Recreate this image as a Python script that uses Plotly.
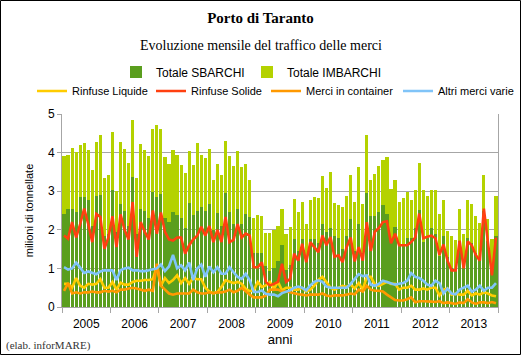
import plotly.graph_objects as go

anni = ["2005", "2006", "2007", "2008", "2009", "2010", "2011", "2012", "2013"]
mesi = [f"{a}-{m:02d}" for a in anni for m in range(1, 13)]

totale_sbarchi = [
    2.40, 2.53, 2.53, 2.47, 2.84, 2.84, 2.76, 2.10, 2.88, 2.89, 1.85, 1.90,
    3.02, 1.95, 2.66, 2.50, 2.10, 3.38, 1.90, 2.55, 2.50, 2.30, 2.98, 2.85,
    2.93, 2.30, 2.20, 2.45, 2.38, 2.30, 2.05, 2.70, 2.38, 2.48, 2.58, 2.50,
    2.68, 2.00, 2.44, 2.10, 2.95, 2.45, 2.15, 2.55, 2.15, 2.40, 2.33, 1.40,
    1.40, 1.40, 1.05, 0.92, 1.00, 1.20, 1.60, 0.95, 1.10, 1.75, 1.45, 1.75,
    1.30, 1.75, 1.75, 1.65, 2.15, 1.95, 2.05, 1.85, 1.80, 1.50, 1.83, 2.28,
    1.45, 2.15, 1.40, 2.95, 2.37, 2.37, 2.47, 2.65, 2.42, 1.75, 2.08, 1.60,
    1.60, 1.78, 1.80, 2.05, 2.52, 1.68, 1.80, 2.05, 1.88, 1.32, 1.85, 1.30,
    1.00, 0.95, 1.70, 1.00, 1.80, 1.65, 1.40, 1.22, 2.50, 1.70, 1.03, 1.85,
]
totale_imbarchi = [
    1.51, 1.40, 1.60, 1.54, 1.36, 1.41, 1.32, 1.46, 1.39, 1.56, 1.49, 1.52,
    1.52, 1.05, 1.61, 1.60, 1.63, 1.46, 1.45, 1.66, 1.57, 1.60, 1.64, 1.87,
    1.67, 1.59, 1.50, 1.61, 1.57, 1.38, 1.42, 1.34, 1.30, 1.76, 1.36, 1.37,
    1.41, 1.30, 1.26, 1.33, 1.35, 1.45, 1.50, 1.50, 1.48, 1.30, 0.97, 0.91,
    0.98, 0.97, 0.88, 1.01, 1.00, 0.90, 0.94, 0.95, 0.98, 1.04, 1.00, 0.98,
    0.84, 1.03, 1.10, 1.18, 1.25, 1.13, 1.45, 0.85, 0.83, 1.08, 1.04, 1.14,
    1.27, 1.47, 1.28, 1.50, 0.91, 1.08, 1.18, 1.15, 1.46, 1.30, 1.20, 1.13,
    1.22, 1.20, 0.97, 0.97, 1.22, 1.34, 1.08, 0.97, 1.16, 1.08, 0.93, 0.68,
    0.85, 0.78, 0.85, 0.90, 0.98, 1.02, 0.97, 0.95, 0.93, 0.58, 0.74, 1.02,
]
rinfuse_liquide = [
    0.60, 0.60, 0.50, 0.75, 0.55, 0.50, 0.60, 0.58, 0.60, 0.72, 0.50, 0.50,
    0.65, 0.45, 0.63, 0.58, 0.58, 0.65, 0.68, 0.68, 0.70, 0.70, 0.72, 1.05,
    0.55, 0.75, 0.62, 0.70, 0.82, 0.62, 0.75, 0.60, 0.75, 0.72, 0.72, 0.50,
    0.40, 0.36, 0.39, 0.52, 0.69, 0.65, 0.62, 0.65, 0.60, 0.47, 0.41, 0.43,
    0.65, 0.52, 0.56, 0.65, 0.47, 0.65, 0.43, 0.50, 0.50, 0.45, 0.45, 0.50,
    0.40, 0.45, 0.55, 0.70, 0.78, 0.65, 0.50, 0.45, 0.50, 0.55, 0.52, 0.58,
    0.48, 0.62, 0.45, 0.78, 0.78, 0.58, 0.55, 0.60, 0.65, 0.60, 0.60, 0.45,
    0.50, 0.50, 0.55, 0.45, 0.45, 0.48, 0.45, 0.50, 0.50, 0.30, 0.45, 0.48,
    0.32, 0.35, 0.32, 0.32, 0.42, 0.30, 0.35, 0.32, 0.38, 0.35, 0.30, 0.28,
]
rinfuse_solide = [
    1.85, 1.77, 2.20, 1.80, 2.15, 2.55, 2.15, 1.68, 2.41, 2.33, 1.51, 1.80,
    2.35, 1.55, 2.40, 2.00, 1.75, 2.72, 1.30, 2.20, 1.95, 1.75, 2.50, 1.90,
    2.45, 1.95, 1.75, 1.72, 1.80, 1.80, 1.38, 1.60, 1.75, 1.85, 2.08, 1.85,
    2.10, 1.68, 2.00, 1.68, 2.33, 1.68, 1.74, 2.15, 1.80, 1.90, 1.85, 1.03,
    1.03, 1.16, 0.65, 0.56, 0.60, 0.65, 1.12, 0.65, 0.73, 1.38, 1.20, 1.64,
    1.16, 1.68, 1.55, 1.42, 1.85, 1.60, 1.81, 1.30, 1.34, 1.16, 1.55, 1.80,
    1.18, 1.55, 1.20, 2.20, 1.45, 1.95, 2.05, 2.20, 2.22, 1.65, 1.90, 1.60,
    1.60, 1.60, 1.68, 1.80, 2.42, 1.78, 1.82, 1.85, 1.78, 1.35, 1.62, 1.20,
    0.95, 0.95, 1.72, 1.00, 1.70, 1.60, 1.35, 1.20, 2.55, 1.70, 0.82, 1.80,
]
merci_container = [
    0.42, 0.62, 0.35, 0.38, 0.35, 0.38, 0.38, 0.40, 0.38, 0.38, 0.42, 0.40,
    0.42, 0.38, 0.45, 0.45, 0.48, 0.50, 0.48, 0.45, 0.42, 0.45, 0.42, 1.12,
    0.55, 0.45, 0.35, 0.32, 0.35, 0.35, 0.35, 0.35, 0.45, 0.38, 0.35, 0.35,
    0.38, 0.35, 0.38, 0.38, 0.40, 0.45, 0.38, 0.42, 0.50, 0.40, 0.32, 0.25,
    0.25, 0.25, 0.30, 0.45, 0.45, 0.45, 0.40, 0.40, 0.38, 0.35, 0.33, 0.32,
    0.30, 0.32, 0.32, 0.32, 0.35, 0.30, 0.28, 0.30, 0.30, 0.30, 0.32, 0.35,
    0.33, 0.45, 0.40, 0.55, 0.45, 0.42, 0.42, 0.40, 0.32, 0.25, 0.18, 0.17,
    0.17, 0.20, 0.25, 0.12, 0.15, 0.15, 0.15, 0.14, 0.13, 0.15, 0.10, 0.12,
    0.10, 0.08, 0.12, 0.10, 0.20, 0.12, 0.08, 0.12, 0.12, 0.10, 0.13, 0.10,
]
altre_merci = [
    1.03, 0.97, 1.00, 1.15, 1.02, 0.88, 0.92, 0.88, 0.85, 0.92, 0.95, 0.95,
    0.95, 0.70, 0.95, 1.00, 1.02, 0.95, 0.95, 0.93, 0.93, 0.95, 0.98, 1.00,
    1.10, 0.93, 1.05, 1.35, 1.00, 1.08, 0.95, 1.15, 0.70, 1.00, 1.10, 0.78,
    1.05, 0.90, 1.03, 0.86, 0.86, 1.03, 0.90, 0.78, 0.73, 0.86, 0.69, 0.39,
    0.39, 0.43, 0.34, 0.32, 0.32, 0.28, 0.36, 0.39, 0.43, 0.50, 0.53, 0.50,
    0.43, 0.56, 0.65, 0.69, 0.65, 0.53, 0.50, 0.50, 0.50, 0.50, 0.50, 0.60,
    0.72, 0.85, 0.80, 0.82, 0.58, 0.55, 0.60, 0.68, 0.65, 0.62, 0.58, 0.60,
    0.62, 0.68, 0.88, 0.78, 0.75, 0.68, 0.58, 0.55, 0.68, 0.62, 0.35, 0.48,
    0.35, 0.33, 0.45, 0.50, 0.55, 0.40, 0.45, 0.55, 0.42, 0.50, 0.50, 0.62,
]

x = list(range(len(mesi)))
year_centers = [12 * k + 5.5 for k in range(len(anni))]
year_bounds = [12 * k - 0.5 for k in range(len(anni) + 1)]

SANS = "Liberation Sans, Arial, sans-serif"
SERIF = "Liberation Serif, Times New Roman, serif"
GRID = "#A6A6A6"

W, H = 521, 355
L, R, T, B = 62, 23, 114, 48
pw, ph = W - L - R, H - T - B


def px(xp):
    return (xp - L) / pw


def py(yp):
    return (T + ph - yp) / ph


fig = go.Figure()
bars = [
    ("Totale SBARCHI", totale_sbarchi, "#5A9E1E", "legend", 116),
    ("Totale IMBARCHI", totale_imbarchi, "#B4D200", "legend2", 247),
]
for name, vals, col, lg, _ in bars:
    fig.add_trace(go.Bar(x=x, y=vals, name=name, legend=lg,
                         marker=dict(color=col, line=dict(width=0))))

lines = [
    ("Rinfuse Liquide", rinfuse_liquide, "#FFCC00", "legend3", 32),
    ("Rinfuse Solide", rinfuse_solide, "#FF4010", "legend4", 151),
    ("Merci in container", merci_container, "#FF9900", "legend5", 266),
    ("Altri merci varie", altre_merci, "#80C4F8", "legend6", 398),
]
for name, vals, col, lg, _ in lines:
    fig.add_trace(go.Scatter(x=x, y=vals, name=name, mode="lines", legend=lg,
                             line=dict(color=col, width=2.6)))

legends = {}
for name, _, _, lg, xpos in bars:
    legends[lg] = dict(orientation="h", x=xpos / W, xanchor="left", xref="container",
                       y=1 - 72 / H, yanchor="middle", yref="container",
                       font=dict(family=SANS, size=12), itemwidth=30,
                       bgcolor="rgba(0,0,0,0)", borderwidth=0)
for name, _, _, lg, xpos in lines:
    legends[lg] = dict(orientation="h", x=xpos / W, xanchor="left", xref="container",
                       y=1 - 91 / H, yanchor="middle", yref="container",
                       font=dict(family=SANS, size=11), itemwidth=30,
                       bgcolor="rgba(0,0,0,0)", borderwidth=0)

fig.update_layout(
    width=W, height=H,
    margin=dict(l=L, r=R, t=T, b=B, autoexpand=False),
    paper_bgcolor="white", plot_bgcolor="white",
    barmode="stack", bargap=0.22,
    showlegend=True,
    font=dict(family=SANS, size=12, color="#000000"),
    title=dict(text="<b>Porto di Taranto</b>", x=0.5, xanchor="center",
               y=1 - 18 / H, yanchor="middle", xref="container", yref="container",
               font=dict(family=SERIF, size=15, color="#000")),
    xaxis=dict(range=[-0.5, len(mesi) - 0.5], tickmode="array",
               tickvals=year_centers, ticktext=anni, ticks="",
               showgrid=False, showline=True, linecolor=GRID, linewidth=1,
               zeroline=False, tickfont=dict(family=SANS, size=12),
               ticklabelstandoff=6,
               minor=dict(tickmode="array", tickvals=year_bounds, ticks="outside",
                          ticklen=5, tickcolor=GRID, showgrid=False),
               title=dict(text="anni", font=dict(family=SANS, size=13), standoff=4)),
    yaxis=dict(range=[0, 5], dtick=1, tick0=0, showgrid=True, gridcolor=GRID,
               gridwidth=1, showline=True, linecolor=GRID, linewidth=1,
               mirror=True, ticks="outside", ticklen=4, tickcolor=GRID,
               zeroline=False, tickfont=dict(family=SANS, size=12),
               title=dict(text="milioni di tonnellate",
                          font=dict(family=SANS, size=11), standoff=12)),
    annotations=[
        dict(text="Evoluzione mensile del traffico delle merci", x=px(W / 2),
             y=py(45), xref="paper", yref="paper", xanchor="center",
             yanchor="middle", showarrow=False,
             font=dict(family=SERIF, size=14, color="#000")),
        dict(text="(elab. inforMARE)", x=px(4), y=py(345), xref="paper",
             yref="paper", xanchor="left", yanchor="middle", showarrow=False,
             font=dict(family=SERIF, size=11, color="#333")),
    ],
    shapes=[
        dict(type="rect", xref="paper", yref="paper",
             x0=px(0.5), x1=px(W - 0.5), y0=py(H - 0.5), y1=py(0.5),
             line=dict(color="black", width=1), fillcolor="rgba(0,0,0,0)",
             layer="above"),
    ],
    **legends,
)

fig.write_html("out.html", config={"displayModeBar": False},
               post_script="document.body.style.margin='0';")
